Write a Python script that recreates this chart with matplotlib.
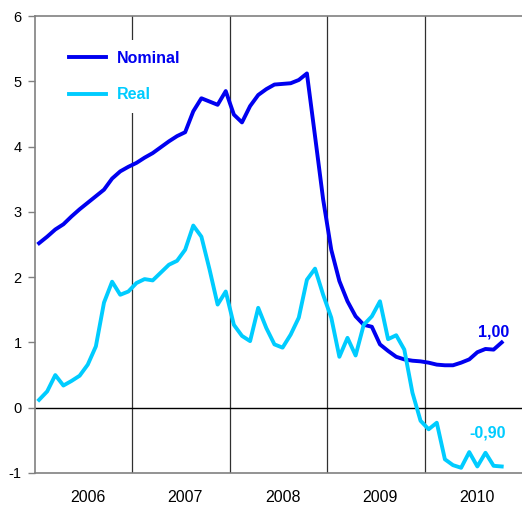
import matplotlib
matplotlib.use("Agg")
import matplotlib.pyplot as plt
import numpy as np

plt.rcParams['font.family'] = ['Liberation Sans', 'DejaVu Sans']

years = ["2006", "2007", "2008", "2009", "2010"]

nominal = [2.52, 2.62, 2.73, 2.81, 2.93, 3.04, 3.14, 3.24, 3.34, 3.51, 3.62, 3.69,
           3.75, 3.83, 3.90, 3.99, 4.08, 4.16, 4.22, 4.54, 4.74, 4.69, 4.64, 4.85,
           4.49, 4.37, 4.62, 4.79, 4.88, 4.95, 4.96, 4.97, 5.02, 5.12, 4.16, 3.19,
           2.42, 1.94, 1.63, 1.40, 1.27, 1.24, 0.97, 0.87, 0.78, 0.74, 0.72, 0.71,
           0.69, 0.66, 0.65, 0.65, 0.69, 0.74, 0.85, 0.90, 0.89, 1.00]

real = [0.12, 0.25, 0.50, 0.34, 0.41, 0.49, 0.66, 0.94, 1.61, 1.93, 1.73, 1.78,
        1.91, 1.97, 1.95, 2.07, 2.19, 2.25, 2.42, 2.79, 2.62, 2.12, 1.58, 1.78,
        1.27, 1.10, 1.02, 1.53, 1.22, 0.97, 0.92, 1.12, 1.38, 1.96, 2.13, 1.73,
        1.38, 0.78, 1.07, 0.80, 1.27, 1.40, 1.63, 1.05, 1.11, 0.89, 0.23, -0.20,
        -0.33, -0.23, -0.79, -0.88, -0.92, -0.68, -0.90, -0.69, -0.89, -0.90]

nominal_label = "1,00"
real_label = "-0,90"

c_nom = "#0000F0"
c_real = "#00CCFF"

x = np.arange(len(nominal)) + 0.5

fig = plt.figure(figsize=(5.22, 5.05), dpi=100)
ax = fig.add_axes([35/522, 32/505, 487/522, 457/505])

ax.set_xlim(0, 59.6)
ax.set_ylim(-1, 6)

# year boundary lines
for k in range(1, len(years)):
    ax.axvline(12 * k, color="#303030", lw=0.9, zorder=1)
ax.axhline(0, color="black", lw=1.0, zorder=1)

l1, = ax.plot(x, nominal, color=c_nom, lw=2.8, label="Nominal", zorder=3)
l2, = ax.plot(x, real, color=c_real, lw=2.8, label="Real", zorder=3)

leg = ax.legend(handles=[l1, l2], loc="upper left", bbox_to_anchor=(0.03, 0.966),
                frameon=True, facecolor="white", edgecolor="none", framealpha=1,
                fancybox=False, handlelength=2.3, handletextpad=0.7,
                labelspacing=1.35, borderpad=0.7,
                prop={"weight": "bold", "size": 11.5}, labelcolor="linecolor")
leg.set_zorder(2)

ax.annotate(nominal_label, xy=(x[-1], nominal[-1]), xytext=(-6, 7.5),
            textcoords="offset points", ha="center", va="center",
            color=c_nom, fontsize=11.5, fontweight="bold")
ax.annotate(real_label, xy=(x[-1], real[-1]), xytext=(-10.5, 23.8),
            textcoords="offset points", ha="center", va="center",
            color=c_real, fontsize=11.5, fontweight="bold")

ax.set_yticks(range(-1, 7))
ax.set_yticklabels([str(v) for v in range(-1, 7)], fontsize=10.5)
ax.tick_params(axis="y", direction="out", length=5, color="#808080", width=1, pad=4.5)

ax.set_xticks([12 * k for k in range(len(years) + 1)])
ax.set_xticklabels([])
ax.tick_params(axis="x", which="major", length=0)
ax.set_xticks([12 * k + 6.5 for k in range(len(years))], minor=True)
ax.set_xticklabels(years, minor=True, fontsize=11.5)
ax.tick_params(axis="x", which="minor", length=0, pad=12)

for s in ["left", "top", "bottom"]:
    ax.spines[s].set_color("#808080")
    ax.spines[s].set_linewidth(1.2)
ax.spines["right"].set_visible(False)

fig.savefig("out.png", dpi=100)
